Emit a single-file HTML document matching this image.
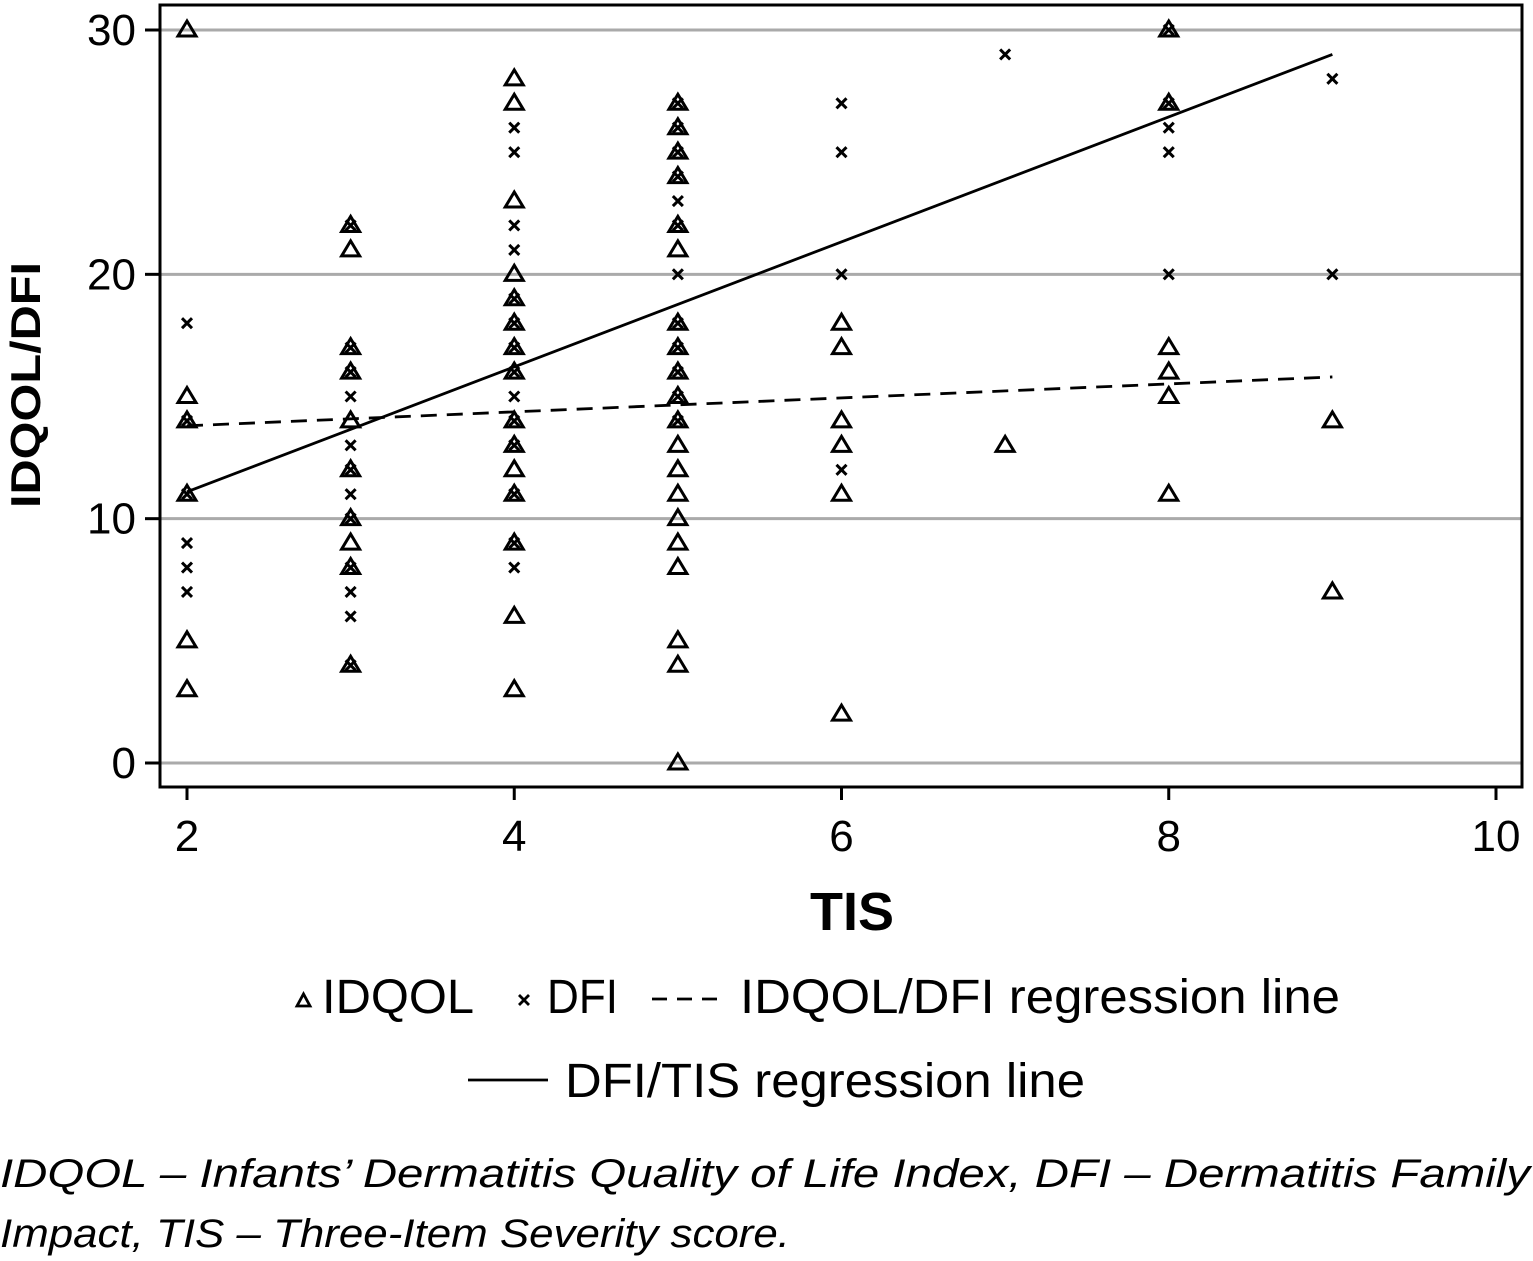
<!DOCTYPE html>
<html><head><meta charset="utf-8"><style>
html,body{margin:0;padding:0;background:#fff;}
svg{display:block;font-family:"Liberation Sans",sans-serif;}
</style></head><body>
<svg id="chart" width="1533" height="1261" viewBox="0 0 1533 1261" xmlns="http://www.w3.org/2000/svg">
<g id="grid"></g>
<g id="marks"></g>
<rect x="160" y="5" width="1362" height="782" fill="none" stroke="#000" stroke-width="3"/>
<g id="axes"></g>
<text x="852" y="930" font-size="54" font-weight="bold" text-anchor="middle">TIS</text>
<text transform="translate(40,385) rotate(-90)" font-size="42" font-weight="bold" text-anchor="middle" textLength="246" lengthAdjust="spacingAndGlyphs">IDQOL/DFI</text>
<g>
  <path d="M297,1006 L310,1006 L303.5,994 Z" fill="none" stroke="#000" stroke-width="2.8"/>
  <text x="322" y="1013" font-size="48" textLength="152" lengthAdjust="spacingAndGlyphs">IDQOL</text>
  <path d="M519,995 L529,1005 M529,995 L519,1005" stroke="#000" stroke-width="2.8"/>
  <text x="547" y="1013" font-size="48" textLength="71" lengthAdjust="spacingAndGlyphs">DFI</text>
  <line x1="652" y1="999" x2="724" y2="999" stroke="#000" stroke-width="2.8" stroke-dasharray="15,10"/>
  <text x="740" y="1013" font-size="48" textLength="600" lengthAdjust="spacingAndGlyphs">IDQOL/DFI regression line</text>
  <line x1="468" y1="1080" x2="548" y2="1080" stroke="#000" stroke-width="2.8"/>
  <text x="565" y="1097" font-size="48" textLength="520" lengthAdjust="spacingAndGlyphs">DFI/TIS regression line</text>
</g>
<text x="0" y="1187" font-size="40" font-style="italic" textLength="1530" lengthAdjust="spacingAndGlyphs">IDQOL – Infants’ Dermatitis Quality of Life Index, DFI – Dermatitis Family</text>
<text x="0" y="1247" font-size="40" font-style="italic" textLength="790" lengthAdjust="spacingAndGlyphs">Impact, TIS – Three-Item Severity score.</text>
</svg>
<script>
const xTicks = [2,4,6,8,10];
const yTicks = [0,10,20,30];
const idqolX = [2,2,2,2,2,2, 3,3,3,3,3,3,3,3,3,3, 4,4,4,4,4,4,4,4,4,4,4,4,4,4,4, 5,5,5,5,5,5,5,5,5,5,5,5,5,5,5,5,5,5,5,5, 6,6,6,6,6,6, 7, 8,8,8,8,8,8, 9,9];
const idqolY = [30,15,14,11,5,3, 22,21,17,16,14,12,10,9,8,4, 28,27,23,20,19,18,17,16,14,13,12,11,9,6,3, 27,26,25,24,22,21,18,17,16,15,14,13,12,11,10,9,8,5,4,0, 18,17,14,13,11,2, 13, 30,27,17,16,15,11, 14,7];
const dfiX = [2,2,2,2,2,2, 3,3,3,3,3,3,3,3,3,3,3,3, 4,4,4,4,4,4,4,4,4,4,4,4,4,4, 5,5,5,5,5,5,5,5,5,5,5,5, 6,6,6,6, 7, 8,8,8,8,8, 9,9];
const dfiY = [18,14,11,9,8,7, 22,17,16,15,13,12,11,10,8,7,6,4, 26,25,22,21,19,18,17,16,15,14,13,11,9,8, 27,26,25,24,23,22,20,18,17,16,15,14, 27,25,20,12, 29, 30,27,26,25,20, 28,20];
const solidLineX = [2,9];
const solidLineY = [11.1,29];
const dashedLineX = [2,9];
const dashedLineY = [13.8,15.8];

const NS='http://www.w3.org/2000/svg';
const sx = v => 187 + (v-2)*(1496-187)/8;
const sy = v => 763 - v*(763-30)/30;
function mk(tag, attrs, parent){const e=document.createElementNS(NS,tag);for(const k in attrs)e.setAttribute(k,attrs[k]);document.getElementById(parent).appendChild(e);return e;}

yTicks.forEach(t=>{
  const g=mk('line',{x1:160,x2:1522,y1:sy(t),y2:sy(t),stroke:'#aaa','stroke-width':3},'grid');
  
  
  const tk=mk('line',{x1:145,x2:160,y1:sy(t),y2:sy(t),stroke:'#000','stroke-width':3},'axes');
  
  
  const lb=mk('text',{x:136,y:sy(t)+15,'font-size':44,'text-anchor':'end'},'axes');
  lb.textContent=t;
  
  
});
xTicks.forEach(t=>{
  const tk=mk('line',{x1:sx(t),x2:sx(t),y1:787,y2:800,stroke:'#000','stroke-width':3},'axes');
  
  
  const lb=mk('text',{x:sx(t),y:851,'font-size':44,'text-anchor':'middle'},'axes');
  lb.textContent=t;
  
  
});
idqolX.forEach((x,i)=>{
  const cx=sx(x), cy=sy(idqolY[i]);
  const p=mk('path',{d:`M${cx-9},${cy+6} L${cx+9},${cy+6} L${cx},${cy-9} Z`,fill:'none',stroke:'#000','stroke-width':3},'marks');
  
  
});
dfiX.forEach((x,i)=>{
  const cx=sx(x), cy=sy(dfiY[i]);
  const p=mk('path',{d:`M${cx-5},${cy-5} L${cx+5},${cy+5} M${cx+5},${cy-5} L${cx-5},${cy+5}`,stroke:'#000','stroke-width':3},'marks');
  
  
});
const sl=mk('line',{x1:sx(solidLineX[0]),y1:sy(solidLineY[0]),x2:sx(solidLineX[1]),y2:sy(solidLineY[1]),stroke:'#000','stroke-width':2.8},'marks');


const dl=mk('line',{x1:sx(dashedLineX[0]),y1:sy(dashedLineY[0]),x2:sx(dashedLineX[1]),y2:sy(dashedLineY[1]),stroke:'#000','stroke-width':2.8,'stroke-dasharray':'16,10'},'marks');


</script>
</body></html>
